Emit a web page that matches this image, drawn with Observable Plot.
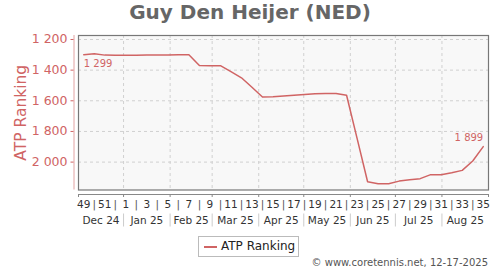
<!DOCTYPE html>
<html>
<head>
<meta charset="utf-8">
<script src="https://cdn.jsdelivr.net/npm/d3@7"></script>
<script src="https://cdn.jsdelivr.net/npm/@observablehq/plot@0.6"></script>
<style>
html, body { margin: 0; padding: 0; background: #fff; }
#wrap { position: relative; width: 500px; height: 270px; overflow: hidden; font-family: "DejaVu Sans", sans-serif; }
#title { position: absolute; left: 0; top: 0; width: 500px; text-align: center; font-weight: bold; font-size: 20px; line-height: 24px; color: #666; }
#chart { position: absolute; left: 0; top: 30px; }
#legend { position: absolute; left: 198px; top: 236px; width: 101px; height: 21px; box-sizing: border-box; border: 1px solid #bbb; background: #fff; }
#legend .sw { position: absolute; left: 5px; top: 9px; width: 13px; height: 2px; }
#legend .lb { position: absolute; left: 22px; top: 0; line-height: 19px; font-size: 12px; color: #222; }
#credit { position: absolute; right: 12px; top: 256px; font-size: 10px; line-height: 14px; color: #555; }
</style>
</head>
<body>
<div id="wrap">
  <div id="title"></div>
  <div id="chart"></div>
  <div id="legend"><div class="sw"></div><div class="lb"></div></div>
  <div id="credit"></div>
</div>
<script>
// ---- data ----
const titleText = "Guy Den Heijer (NED)";
const seriesName = "ATP Ranking";
const creditText = "© www.coretennis.net, 12-17-2025";
const weeks = [49, 50, 51, 52, 1, 2, 3, 4, 5, 6, 7, 8, 9, 10, 11, 12, 13, 14, 15, 16, 17, 18, 19, 20, 21, 22, 23, 24, 25, 26, 27, 28, 29, 30, 31, 32, 33, 34, 35];
const ranks = [1299, 1293, 1302, 1303, 1303, 1303, 1302, 1302, 1302, 1300, 1299, 1370, 1371, 1371, 1410, 1450, 1512, 1575, 1573, 1569, 1564, 1559, 1554, 1553, 1553, 1564, 1845, 2128, 2141, 2141, 2124, 2115, 2108, 2082, 2082, 2069, 2054, 1993, 1899];
const monthLabels = ["Dec 24", "Jan 25", "Feb 25", "Mar 25", "Apr 25", "May 25", "Jun 25", "Jul 25", "Aug 25"];
const yTicks = [1200, 1400, 1600, 1800, 2000];
const yDomain = [1174, 2182];
const firstMonday = new Date(Date.UTC(2024, 11, 2));

// ---- derived ----
const DAY = 864e5;
const red = "#d06464";
const fmt = d3.formatLocale({decimal: ".", thousands: " ", grouping: [3], currency: ["", ""]}).format(",d");
const weekDate = i => new Date(firstMonday.getTime() + (i * 7 + 3.5) * DAY);
const data = weeks.map((w, i) => ({week: w, date: weekDate(i), rank: ranks[i], i}));
const xDomain = [firstMonday, new Date(firstMonday.getTime() + weeks.length * 7 * DAY)];
const monthStarts = d3.utcMonths(xDomain[0], xDomain[1]);
const bounds = [xDomain[0], ...monthStarts, xDomain[1]];
const monthData = monthLabels.map((m, i) => ({label: m, date: new Date((bounds[i].getTime() + bounds[i + 1].getTime()) / 2)}));
const weekLabels = data.filter(d => d.i % 2 === 0);
const weekSeps = data.filter(d => d.i % 2 === 1);
const yBottom = yDomain[1];

document.getElementById("title").textContent = titleText;
document.querySelector("#legend .sw").style.background = red;
document.querySelector("#legend .lb").textContent = seriesName;
document.getElementById("credit").textContent = creditText;

const chart = Plot.plot({
  width: 500,
  height: 200,
  marginLeft: 78,
  marginRight: 12,
  marginTop: 5,
  marginBottom: 40.5,
  style: {fontFamily: "DejaVu Sans, sans-serif", background: "transparent"},
  x: {type: "utc", domain: xDomain, axis: null},
  y: {domain: yDomain, reverse: true, axis: null},
  marks: [
    Plot.frame({fill: "#f8f8f8"}),
    Plot.gridY(yTicks, {stroke: "#d0d0d0", strokeOpacity: 1, strokeDasharray: "3,3"}),
    Plot.gridX(monthStarts, {stroke: "#d0d0d0", strokeOpacity: 1, strokeDasharray: "3,3"}),
    Plot.line(data, {x: "date", y: "rank", stroke: red, strokeWidth: 1.5}),
    Plot.text([data[0]], {x: "date", y: "rank", text: d => fmt(d.rank), textAnchor: "start", dy: 9, fill: red, fontSize: 10}),
    Plot.text([data[data.length - 1]], {x: "date", y: "rank", text: d => fmt(d.rank), textAnchor: "end", dy: -9, fill: red, fontSize: 10}),
    Plot.frame({stroke: "#777", strokeWidth: 1.2}),
    // y axis
    Plot.ruleX([xDomain[0]], {dx: -4.5, stroke: red, strokeOpacity: 0.6}),
    Plot.axisY(yTicks, {tickFormat: fmt, tickSize: 3, tickPadding: 3.5, dx: -4.5, stroke: red, fill: red, fontSize: 12.5, label: null}),
    Plot.text([seriesName], {frameAnchor: "left", textAnchor: "middle", rotate: -90, dx: -57, fill: red, fontSize: 15.5}),
    // x axis
    Plot.ruleY([yBottom], {dy: 4.5, stroke: "#888"}),
    Plot.ruleX(bounds, {x: d => d, y1: yBottom, y2: yBottom, insetBottom: -3, dy: 4.5, stroke: "#888"}),
    Plot.text(weekLabels, {x: "date", y: () => yBottom, text: d => String(d.week), dy: 14.5, fill: "#333", fontSize: 10.5}),
    Plot.text(weekSeps, {x: "date", y: () => yBottom, text: () => "|", dy: 14.5, fill: "#555", fontSize: 10.5}),
    Plot.ruleX(monthStarts, {x: d => d, y1: yBottom, y2: yBottom, insetTop: 24, insetBottom: -37, stroke: "#ccc"}),
    Plot.text(monthData, {x: "date", y: () => yBottom, text: "label", dy: 30.5, fill: "#333", fontSize: 10.5})
  ]
});
document.getElementById("chart").appendChild(chart);
</script>
</body>
</html>
